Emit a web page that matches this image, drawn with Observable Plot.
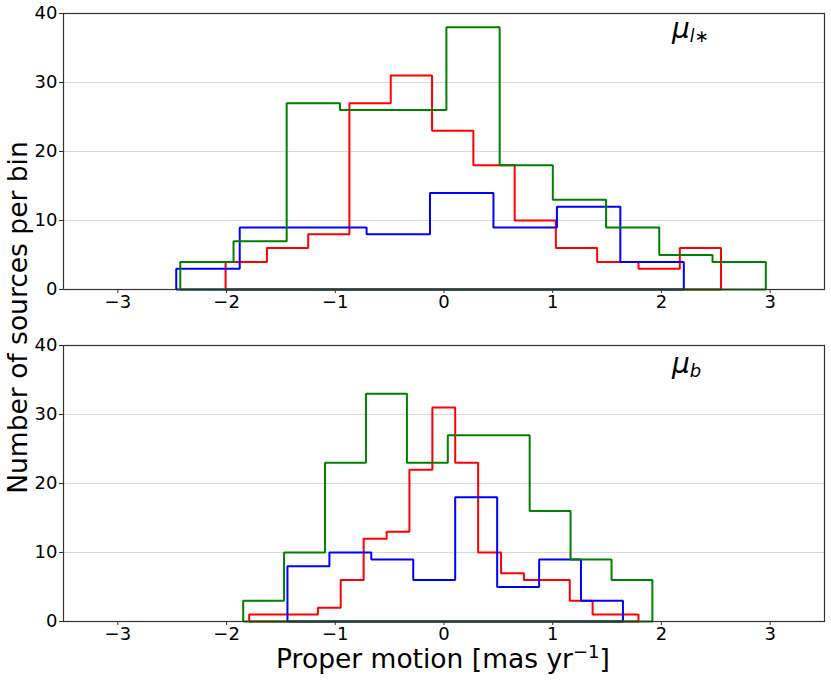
<!DOCTYPE html>
<html><head><meta charset="utf-8">
<script src="https://cdn.jsdelivr.net/npm/d3@7"></script>
<script src="https://cdn.jsdelivr.net/npm/@observablehq/plot@0.6"></script>
<style>
body{margin:0;background:#fff;}
#wrap{position:relative;width:831px;height:680px;font-family:"DejaVu Sans",sans-serif;}
#top,#bot{position:absolute;left:0;}
#top{top:0}
#bot{top:320px}
#ov{position:absolute;left:0;top:0;pointer-events:none}
</style></head><body>
<div id="wrap">
<div id="top"></div><div id="bot"></div>
<svg id="ov" width="831" height="680" font-family="DejaVu Sans, sans-serif" fill="#000">
  <text x="26.7" y="317.5" transform="rotate(-90 26.7 317.5)" text-anchor="middle" font-size="26.5">Number of sources per bin</text>
  <text x="443" y="668" text-anchor="middle" font-size="26.5">Proper motion [mas yr<tspan dy="-10" font-size="18">−1</tspan><tspan dy="10">]</tspan></text>
  <text x="672" y="37.5" font-size="28"><tspan font-style="italic">μ</tspan><tspan font-size="17" dy="4.5" font-style="italic">l</tspan><tspan font-size="17">∗</tspan></text>
  <text x="672" y="372.5" font-size="28"><tspan font-style="italic">μ</tspan><tspan font-size="18" dy="4.5" font-style="italic">b</tspan></text>
</svg>
</div>
<script>
// ---- data: bin edges and counts per bin ----
const xTicks = [-3, -2, -1, 0, 1, 2, 3];
const yTicks = [0, 10, 20, 30, 40];

// mu_l* panel
const lGreenEdges = [-2.426, -1.936, -1.447, -0.957, -0.468, 0.022, 0.512, 1.001, 1.491, 1.980, 2.470, 2.960];
const lGreenCounts = [4, 7, 27, 26, 26, 38, 18, 13, 9, 5, 4];
const lRedEdges = [-2.009, -1.629, -1.249, -0.870, -0.490, -0.110, 0.270, 0.650, 1.029, 1.409, 1.789, 2.169, 2.548];
const lRedCounts = [4, 6, 8, 27, 31, 23, 18, 10, 6, 4, 3, 6];
const lBlueEdges = [-2.463, -1.879, -1.296, -0.712, -0.129, 0.455, 1.039, 1.622, 2.206];
const lBlueCounts = [3, 9, 9, 8, 14, 9, 12, 4];

// mu_b panel
const bGreenEdges = [-1.847, -1.471, -1.094, -0.718, -0.341, 0.035, 0.411, 0.788, 1.164, 1.541, 1.917];
const bGreenCounts = [3, 10, 23, 33, 23, 27, 27, 16, 9, 6];
const bRedEdges = [-1.792, -1.581, -1.371, -1.160, -0.950, -0.739, -0.528, -0.318, -0.107, 0.103, 0.314, 0.525, 0.735, 0.946, 1.157, 1.367, 1.578, 1.789];
const bRedCounts = [1, 1, 1, 2, 6, 12, 13, 22, 31, 23, 10, 7, 6, 6, 3, 1, 1];
const bBlueEdges = [-1.440, -1.054, -0.669, -0.283, 0.103, 0.489, 0.875, 1.260, 1.646];
const bBlueCounts = [8, 10, 9, 6, 18, 5, 9, 3];

const colors = {red: "#ff0000", blue: "#0000ff", green: "#008000"};

function outline(edges, counts) {
  const n = counts.length;
  const pts = [{x: edges[0], y: 0}];
  counts.forEach((c, i) => pts.push({x: edges[i], y: c}));
  pts.push({x: edges[n], y: counts[n - 1]});
  pts.push({x: edges[n], y: 0});
  pts.push({x: edges[0], y: 0});
  return pts;
}

const fmt = d3.format("d");

function panel(series, height, mt, mb) {
  return Plot.plot({
    width: 831, height,
    marginLeft: 63, marginRight: 7, marginTop: mt, marginBottom: mb,
    style: {fontFamily: "DejaVu Sans, sans-serif", fontSize: "18px", color: "#000", background: "#fff"},
    x: {domain: [-3.5, 3.5]},
    y: {domain: [0, 40]},
    marks: [
      Plot.gridY(yTicks.slice(1, -1), {stroke: "#d9d9d9", strokeOpacity: 1, strokeWidth: 1}),
      ...series.map(s => Plot.line(outline(s.edges, s.counts), {
        x: "x", y: "y", curve: "step-after", stroke: s.color, strokeWidth: 2,
        strokeLinejoin: "miter", strokeLinecap: "butt"
      })),
      Plot.frame({stroke: "#333", strokeWidth: 1.2}),
      Plot.axisX({ticks: xTicks, tickFormat: fmt, tickSize: 4, tickPadding: 2, label: null, fontSize: 18, stroke: "#333", fill: "#000"}),
      Plot.axisY({ticks: yTicks, tickFormat: fmt, tickSize: 4, tickPadding: 2, label: null, fontSize: 18, stroke: "#333", fill: "#000"})
    ]
  });
}

document.getElementById("top").append(panel([
  {edges: lRedEdges, counts: lRedCounts, color: colors.red},
  {edges: lBlueEdges, counts: lBlueCounts, color: colors.blue},
  {edges: lGreenEdges, counts: lGreenCounts, color: colors.green}
], 320, 13, 31));

document.getElementById("bot").append(panel([
  {edges: bRedEdges, counts: bRedCounts, color: colors.red},
  {edges: bBlueEdges, counts: bBlueCounts, color: colors.blue},
  {edges: bGreenEdges, counts: bGreenCounts, color: colors.green}
], 360, 25, 59));
</script>
</body></html>
